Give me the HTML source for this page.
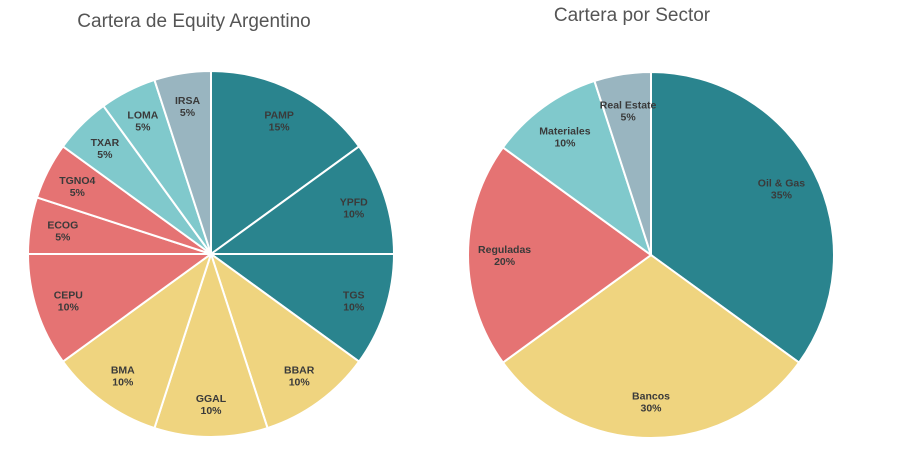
<!DOCTYPE html>
<html><head><meta charset="utf-8"><style>
body{margin:0;background:#fff;width:897px;height:461px;overflow:hidden}
svg{font-family:"Liberation Sans",sans-serif}
</style></head><body>
<svg id="c" width="897" height="461">
<text x="194" y="27" text-anchor="middle" font-size="19" fill="#555">Cartera de Equity Argentino</text>
<text x="632" y="21" text-anchor="middle" font-size="19" fill="#555">Cartera por Sector</text>
</svg>
<script>
const leftLabels=["PAMP","YPFD","TGS","BBAR","GGAL","BMA","CEPU","ECOG","TGNO4","TXAR","LOMA","IRSA"];
const leftValues=[15,10,10,10,10,10,10,5,5,5,5,5];
const leftColors=["#2a848e","#2a848e","#2a848e","#efd47f","#efd47f","#efd47f","#e57373","#e57373","#e57373","#80c9cc","#80c9cc","#99b5c0"];
const rightLabels=["Oil & Gas","Bancos","Reguladas","Materiales","Real Estate"];
const rightValues=[35,30,20,10,5];
const rightColors=["#2a848e","#efd47f","#e57373","#80c9cc","#99b5c0"];
const svg=document.getElementById('c');
const NS="http://www.w3.org/2000/svg";
function pie(labels,values,colors,cx,cy,R,lr,prefix){
  const total=values.reduce((a,b)=>a+b,0);
  let a0=0;
  values.forEach((v,i)=>{
    const a1=a0+v/total*2*Math.PI;
    const p=(a)=>[cx+R*Math.sin(a),cy-R*Math.cos(a)];
    const [x0,y0]=p(a0),[x1,y1]=p(a1);
    const path=document.createElementNS(NS,'path');
    path.setAttribute('d',`M${cx},${cy}L${x0},${y0}A${R},${R} 0 ${a1-a0>Math.PI?1:0} 1 ${x1},${y1}Z`);
    path.setAttribute('fill',colors[i]);path.setAttribute('stroke','#fff');path.setAttribute('stroke-width','2');
    
    
    svg.appendChild(path);
    const am=(a0+a1)/2;
    const tx=cx+lr*R*Math.sin(am),ty=cy-lr*R*Math.cos(am);
    const t=document.createElementNS(NS,'text');
    t.setAttribute('text-anchor','middle');t.setAttribute('font-size','10.5');t.setAttribute('font-weight','bold');t.setAttribute('fill','#3a3a3a');
    
    
    const s1=document.createElementNS(NS,'tspan');s1.setAttribute('x',tx);s1.setAttribute('y',ty-2);s1.textContent=labels[i];
    const s2=document.createElementNS(NS,'tspan');s2.setAttribute('x',tx);s2.setAttribute('y',ty+10);s2.textContent=v+'%';
    t.appendChild(s1);t.appendChild(s2);svg.appendChild(t);
    a0=a1;
  });
}
pie(leftLabels,leftValues,leftColors,211,254,183,0.82,'left');
pie(rightLabels,rightValues,rightColors,651,255,183,0.8,'right');
</script>
</body></html>
